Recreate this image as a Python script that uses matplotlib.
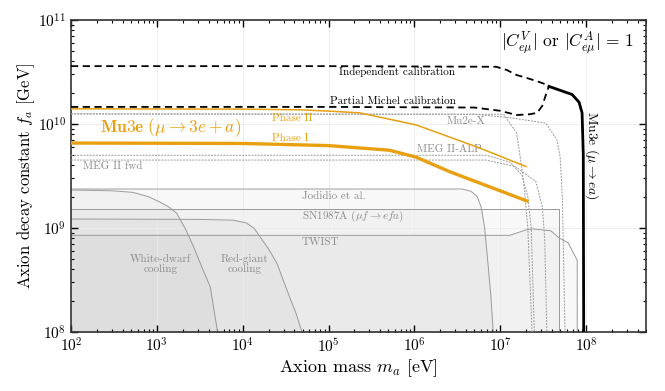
import numpy as np
import matplotlib
matplotlib.use("Agg")
import matplotlib.pyplot as plt

plt.rcParams['font.family'] = 'serif'
plt.rcParams['font.serif'] = ['cmr10']
plt.rcParams['mathtext.fontset'] = 'cm'
plt.rcParams['axes.formatter.use_mathtext'] = True
plt.rcParams['axes.unicode_minus'] = False

ORANGE = '#e8a010'
GRAYTXT = '#8c8c8c'
GRAYLN = '#9a9a9a'

# Mu3e (mu -> e a) sensitivities, mass in eV, f_a in GeV
indep_m = [1e2, 1e5, 9e6, 1.2e7, 1.55e7, 2.1e7, 2.6e7, 3.2e7, 3.7e7]
indep_f = [3.6e10, 3.6e10, 3.55e10, 3.3e10, 2.96e10, 2.75e10, 2.6e10, 2.45e10, 2.3e10]
michel_m = [1e2, 1e5, 5e6, 1e7, 1.55e7, 2.2e7, 2.7e7, 3.1e7, 3.4e7, 3.7e7]
michel_f = [1.46e10, 1.46e10, 1.44e10, 1.34e10, 1.22e10, 1.24e10, 1.28e10, 1.5e10, 1.9e10, 2.3e10]
ea_m = [3.7e7, 6.9e7, 8.3e7, 9.0e7, 9.3e7, 9.4e7]
ea_f = [2.3e10, 1.92e10, 1.62e10, 1.28e10, 5e9, 1e8]

# Mu3e (mu -> 3e + a)
phase2_m = [1e2, 1e4, 4.6e4, 1e5, 2.3e5, 1.05e6, 5.7e6, 2e7]
phase2_f = [1.4e10, 1.39e10, 1.37e10, 1.33e10, 1.28e10, 9.8e9, 5.9e9, 3.9e9]
phase1_m = [1e2, 1e4, 1e5, 5.1e5, 1.05e6, 2.6e6, 2.05e7]
phase1_f = [6.56e9, 6.5e9, 6.2e9, 5.6e9, 4.8e9, 3.47e9, 1.82e9]

# projections (gray dashed)
mu2ex_a_m = [1e2, 5e6, 1.3e7, 3.4e7, 4.6e7, 5e7, 5.3e7, 5.7e7]
mu2ex_a_f = [1.25e10, 1.24e10, 1.15e10, 1.02e10, 7e9, 4.8e9, 2e9, 1e8]
mu2ex_b_m = [1e2, 1.1e7, 1.55e7, 1.78e7, 1.92e7, 2.1e7, 2.35e7]
mu2ex_b_f = [1.25e10, 1.24e10, 8.2e9, 3.9e9, 2.3e9, 1e9, 1e8]
megalp_m = [1e2, 6.9e6, 1.3e7, 1.8e7, 2.1e7, 2.3e7, 2.5e7]
megalp_f = [5e9, 5e9, 4.3e9, 3.2e9, 2e9, 1e9, 1e8]
megfwd_m = [1e2, 6.9e6, 1.5e7, 2.6e7, 3.1e7, 3.3e7, 3.5e7]
megfwd_f = [4.5e9, 4.5e9, 3.9e9, 2.8e9, 1.6e9, 8e8, 1e8]

# existing limits (filled)
jod_m = [1e2, 3.6e6, 4.6e6, 5.4e6, 6.0e6, 6.6e6, 7.2e6, 7.8e6, 8.3e6]
jod_f = [2.37e9, 2.37e9, 2.25e9, 2.0e9, 1.6e9, 1.0e9, 4.6e8, 2.2e8, 1e8]
sn_m = [1e2, 4.9e7, 4.9e7]
sn_f = [1.52e9, 1.52e9, 1e8]
twist_m = [1e2, 1.3e7, 2.0e7, 2.4e7, 3.9e7, 4.9e7, 6.2e7, 7.9e7, 7.9e7]
twist_f = [8.5e8, 8.5e8, 9.6e8, 9.8e8, 9.4e8, 8.0e8, 7.2e8, 4.9e8, 1e8]
rg_m = [1e2, 3e3, 7.7e3, 1.1e4, 1.35e4, 1.6e4, 2e4, 2.5e4, 3.5e4, 4.2e4, 4.9e4]
rg_f = [1.22e9, 1.21e9, 1.19e9, 1.12e9, 1e9, 8.2e8, 6.3e8, 4.6e8, 2.2e8, 1.5e8, 1e8]
wd_m = [1e2, 3e2, 5.3e2, 8e2, 1.08e3, 1.4e3, 1.7e3, 2.2e3, 2.7e3, 3.2e3, 4.2e3, 5.1e3]
wd_f = [2.32e9, 2.28e9, 2.2e9, 2.0e9, 1.78e9, 1.58e9, 1.39e9, 9.5e8, 6.5e8, 4.6e8, 2.7e8, 1e8]

fig = plt.figure(figsize=(6.65, 3.91), dpi=100)
ax = fig.add_axes([71/665, 59/391, 575/665, 312/391])
ax.set_xscale('log')
ax.set_yscale('log')

for m, f in [(jod_m, jod_f), (sn_m, sn_f), (twist_m, twist_f), (rg_m, rg_f), (wd_m, wd_f)]:
    ax.fill_between(m, 1e7, f, color='gray', alpha=0.055, lw=0, zorder=1)
    ax.plot(m, f, color=GRAYLN, lw=0.7, zorder=2)

for m, f in [(mu2ex_a_m, mu2ex_a_f), (mu2ex_b_m, mu2ex_b_f), (megalp_m, megalp_f), (megfwd_m, megfwd_f)]:
    ax.plot(m, f, color=GRAYLN, lw=0.7, ls=(0, (2, 1.2)), zorder=3)

ax.plot(phase2_m, phase2_f, color=ORANGE, lw=1.1, zorder=4)
ax.plot(phase1_m, phase1_f, color=ORANGE, lw=2.4, zorder=4)

ax.plot(indep_m, indep_f, color='black', lw=1.3, ls=(0, (4, 2.5)), zorder=5)
ax.plot(michel_m, michel_f, color='black', lw=1.3, ls=(0, (4, 2.5)), zorder=5)
ax.plot(ea_m, ea_f, color='black', lw=2.0, zorder=5)

# labels
ax.text(6.2e5, 3.16e10, 'Independent calibration', fontsize=8, ha='center', va='center')
ax.text(5.6e5, 1.66e10, 'Partial Michel calibration', fontsize=8, ha='center', va='center')
ax.text(218, 9.3e9, r'$\mathbf{Mu3e}\ (\mu\rightarrow 3e+a)$', fontsize=12.5, color=ORANGE, va='center')
ax.text(2.2e4, 1.14e10, 'Phase II', fontsize=8, color=ORANGE, va='center')
ax.text(2.2e4, 7.3e9, 'Phase I', fontsize=8, color=ORANGE, va='center')
ax.text(2.4e6, 1.07e10, 'Mu2e-X', fontsize=8, color=GRAYTXT, va='center')
ax.text(1.07e6, 5.75e9, 'MEG II-ALP', fontsize=8, color=GRAYTXT, va='center')
ax.text(138, 3.95e9, 'MEG II fwd', fontsize=8, color=GRAYTXT, va='center')
ax.text(4.9e4, 2.0e9, 'Jodidio et al.', fontsize=8, color=GRAYTXT, va='center')
ax.text(4.9e4, 1.28e9, r'SN1987A ($\mu f\rightarrow efa$)', fontsize=8, color=GRAYTXT, va='center')
ax.text(4.9e4, 7.3e8, 'TWIST', fontsize=8, color=GRAYTXT, va='center')
ax.text(1.1e3, 4.5e8, 'White-dwarf\ncooling', fontsize=8, color=GRAYTXT, ha='center', va='center',
        linespacing=0.95)
ax.text(1.05e4, 4.5e8, 'Red-giant\ncooling', fontsize=8, color=GRAYTXT, ha='center', va='center',
        linespacing=0.95)
ax.text(1.17e8, 5.0e9, r'Mu3e ($\mu\rightarrow e a$)', fontsize=9.8, rotation=270, ha='center', va='center')
ax.text(0.979, 0.93, r'$|C^V_{e\mu}|$ or $|C^A_{e\mu}|\,=\,1$', fontsize=12.5, ha='right', va='center',
        transform=ax.transAxes)

ax.set_xlim(1e2, 5e8)
ax.set_ylim(1e8, 1e11)
ax.set_xlabel(r'Axion mass $m_a$ [eV]', fontsize=13, labelpad=1.5)
ax.set_ylabel(r'Axion decay constant $f_a$ [GeV]', fontsize=12, labelpad=1)

ax.grid(True, which='major', color='#ebebeb', lw=0.6, zorder=0)
ax.tick_params(which='both', direction='in', top=True, right=True, labelsize=11)
ax.tick_params(which='major', length=5, width=1.0)
ax.tick_params(which='minor', length=2.5, width=0.8)
for s in ax.spines.values():
    s.set_linewidth(1.2)
    s.set_color('#333333')

plt.savefig('out.png', dpi=100)
